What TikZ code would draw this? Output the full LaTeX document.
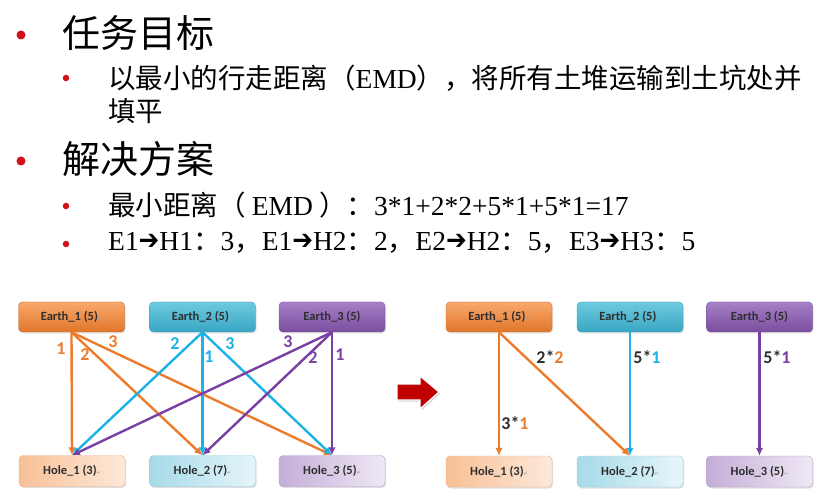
\documentclass[tikz,border=0pt]{standalone}
\usepackage{fontspec}
\setmainfont{Liberation Serif}
\newfontfamily\cjk{Noto Sans CJK SC}
\newfontfamily\carl{Carlito}
\newfontfamily\dvs{DejaVu Sans}
\usetikzlibrary{shadows,arrows.meta}
\definecolor{bulred}{HTML}{D0101A}
\definecolor{cor}{HTML}{EC7C2C}
\definecolor{ccy}{HTML}{1BB3E6}
\definecolor{cpu}{HTML}{7A3FA4}
\definecolor{txtgray}{HTML}{2E2E2E}
\newcommand\zh[1]{{\cjk #1}}
\newcommand\harr{{\dvs\bfseries\raisebox{0.05em}{\scalebox{0.9}[1]{➔}}}}
\newcommand\pmark{{\dvs\fontsize{5}{5}\selectfont\color{gray!70}↵}}
\begin{document}
\begin{tikzpicture}[x=1pt,y=-1pt,
  bigtxt/.style={anchor=west,inner sep=0pt,font=\fontsize{38}{40}\selectfont},
  subtxt/.style={anchor=west,inner sep=0pt,font=\fontsize{27.5}{30}\selectfont},
  bigdot/.style={circle,fill=bulred,inner sep=0pt,minimum size=9pt},
  smalldot/.style={circle,fill=bulred,inner sep=0pt,minimum size=6.5pt},
  ebox/.style={rounded corners=4pt,minimum width=106pt,minimum height=30pt,inner sep=0pt,
    font=\carl\bfseries\fontsize{12.5}{14}\selectfont,text=txtgray,
    drop shadow={opacity=0.25,shadow xshift=1pt,shadow yshift=-1.5pt}},
  hbox/.style={ebox,minimum height=31pt},
  conn/.style={line width=2.4pt,-{Latex[length=8pt,width=7.5pt]}},
  num/.style={font=\carl\bfseries\fontsize{18}{19}\selectfont,inner sep=0pt},
  mul/.style={font=\carl\bfseries\fontsize{18}{19}\selectfont,inner sep=0pt,text=txtgray},
]
\useasboundingbox (0,0) rectangle (828,497);
\fill[white] (0,0) rectangle (828,497);

% ---- text ----
\node[bigdot] (b1) at (21,35) {};
\node[bigtxt] (t1) at (62,33) {\zh{任务目标}};
\node[smalldot] (b2) at (66,78) {};
\node[subtxt] (t2) at (108,78) {\zh{以最小的行走距离（}EMD\zh{），将所有土堆运输到土坑处并}};
\node[subtxt] (t3) at (108,111) {\zh{填平}};
\node[bigdot] (b3) at (21,161) {};
\node[bigtxt] (t4) at (62,159) {\zh{解决方案}};
\node[smalldot] (b4) at (66,206) {};
\node[subtxt] (t5) at (108,205) {\zh{最小距离（ }EMD\zh{ ）：}3*1+2*2+5*1+5*1=17};
\node[smalldot] (b5) at (66,244) {};
\node[subtxt] (t6) at (108,243) {E1\harr H1\zh{：}3\zh{，}E1\harr H2\zh{：}2\zh{，}E2\harr H2\zh{：}5\zh{，}E3\harr H3\zh{：}5};

% ---- left diagram ----
\node[ebox,bottom color=cor!95!black,draw=cor!85!black,
  top color={rgb,255:red,249;green,168;blue,108}] (e1) at (71.5,317) {Earth\_1 (5)\pmark};
\node[ebox,top color={rgb,255:red,110;green,202;blue,222},bottom color={rgb,255:red,56;green,166;blue,196},
  draw={rgb,255:red,60;green,160;blue,190}] (e2) at (202.5,317) {Earth\_2 (5)\pmark};
\node[ebox,top color={rgb,255:red,166;green,128;blue,200},bottom color={rgb,255:red,122;green,78;blue,158},
  draw={rgb,255:red,118;green,76;blue,152}] (e3) at (332,317) {Earth\_3 (5)};
\node[hbox,left color={rgb,255:red,248;green,192;blue,150},right color={rgb,255:red,253;green,233;blue,218},
  draw={rgb,255:red,244;green,176;blue,128}] (h1) at (72,471) {Hole\_1 (3)\pmark};
\node[hbox,left color={rgb,255:red,166;green,218;blue,232},right color={rgb,255:red,230;green,246;blue,250},
  draw={rgb,255:red,140;green,206;blue,224}] (h2) at (202.5,471) {Hole\_2 (7)\pmark};
\node[hbox,left color={rgb,255:red,196;green,174;blue,216},right color={rgb,255:red,239;green,232;blue,245},
  draw={rgb,255:red,180;green,156;blue,204}] (h3) at (332,471) {Hole\_3 (5)\pmark};

\draw[conn,cor] (e1.south) -- (h1.north);
\draw[conn,cor] (e1.south) -- (h2.north);
\draw[conn,cor] (e1.south) -- (h3.north);
\draw[conn,ccy] (e2.south) -- (h1.north);
\draw[conn,ccy] (e2.south) -- (h2.north);
\draw[conn,ccy] (e2.south) -- (h3.north);
\draw[conn,cpu] (e3.south) -- (h1.north);
\draw[conn,cpu] (e3.south) -- (h2.north);
\draw[conn,cpu] (e3.south) -- (h3.north);

\node[num,text=cor] (l11) at (61,349) {1};
\node[num,text=cor] (l12) at (85,355) {2};
\node[num,text=cor] (l13) at (113,342) {3};
\node[num,text=ccy] (l22) at (175,344) {2};
\node[num,text=ccy] (l21) at (209,357) {1};
\node[num,text=ccy] (l23) at (230,344) {3};
\node[num,text=cpu] (l33) at (288,342) {3};
\node[num,text=cpu] (l32) at (313,358) {2};
\node[num,text=cpu] (l31) at (340,355) {1};

% ---- red arrow ----
\filldraw[fill={rgb,255:red,192;green,0;blue,0},draw=white,line width=1.2pt,
  drop shadow={opacity=0.3,shadow xshift=1.5pt,shadow yshift=-1.5pt}]
  (397,384) -- (420,384) -- (420,376) -- (439,392) -- (420,409) -- (420,400) -- (397,400) -- cycle;

% ---- right diagram ----
\node[ebox,bottom color=cor!95!black,draw=cor!85!black,
  top color={rgb,255:red,249;green,168;blue,108}] (f1) at (499,317) {Earth\_1 (5)\pmark};
\node[ebox,top color={rgb,255:red,110;green,202;blue,222},bottom color={rgb,255:red,56;green,166;blue,196},
  draw={rgb,255:red,60;green,160;blue,190}] (f2) at (630,317) {Earth\_2 (5)\pmark};
\node[ebox,top color={rgb,255:red,166;green,128;blue,200},bottom color={rgb,255:red,122;green,78;blue,158},
  draw={rgb,255:red,118;green,76;blue,152}] (f3) at (759.5,317) {Earth\_3 (5)};
\node[hbox,left color={rgb,255:red,248;green,192;blue,150},right color={rgb,255:red,253;green,233;blue,218},
  draw={rgb,255:red,244;green,176;blue,128}] (g1) at (499,471.5) {Hole\_1 (3)\pmark};
\node[hbox,left color={rgb,255:red,166;green,218;blue,232},right color={rgb,255:red,230;green,246;blue,250},
  draw={rgb,255:red,140;green,206;blue,224}] (g2) at (630,471.5) {Hole\_2 (7)\pmark};
\node[hbox,left color={rgb,255:red,196;green,174;blue,216},right color={rgb,255:red,239;green,232;blue,245},
  draw={rgb,255:red,180;green,156;blue,204}] (g3) at (759.5,471.5) {Hole\_3 (5)\pmark};

\draw[conn,cor] (f1.south) -- (g1.north);
\draw[conn,cor] (f1.south) -- (g2.north);
\draw[conn,ccy] (f2.south) -- (g2.north);
\draw[conn,cpu] (f3.south) -- (g3.north);

\node[mul] (m1) at (515,423) {3*\textcolor{cor}{1}};
\node[mul] (m2) at (550,357) {2*\textcolor{cor}{2}};
\node[mul] (m3) at (647,357) {5*\textcolor{ccy}{1}};
\node[mul] (m4) at (777,357) {5*\textcolor{cpu}{1}};
\end{tikzpicture}
\end{document}
